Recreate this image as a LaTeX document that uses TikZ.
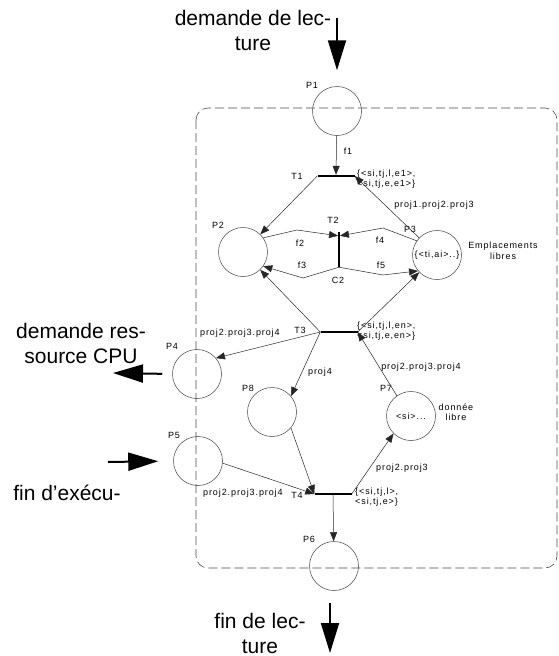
\documentclass[tikz,border=0pt]{standalone}
\usepackage{fontspec}
\setmainfont{Liberation Sans}
\newfontfamily\lblfont[LetterSpace=10]{Liberation Sans}
\usetikzlibrary{arrows.meta}

\begin{document}
\begin{tikzpicture}[x=1pt,y=-1pt,
    place/.style={circle,draw=black!75,line width=0.5pt,minimum size=49pt,inner sep=0pt,font=\lblfont\fontsize{9}{10}\selectfont},
    trans/.style={fill=black,inner sep=0pt,minimum width=37pt,minimum height=2pt},
    vtrans/.style={fill=black,inner sep=0pt,minimum width=1.5pt,minimum height=35pt},
    arc/.style={-{Triangle[length=9pt,width=7pt]},black!85,line width=0.5pt},
    bigarrow/.style={-{Triangle[length=30pt,width=18pt]},line width=2pt},
    lbl/.style={font=\lblfont\fontsize{9}{10.5}\selectfont,inner sep=0pt},
    big/.style={font=\fontsize{21}{25}\selectfont,align=center,inner sep=0pt}]
    \useasboundingbox (0,0) rectangle (559,656);
    \draw[black!70,line width=0.6pt,dash pattern=on 9pt off 4pt,rounded corners=12pt] (196,108) rectangle (557,568);

    \node[place] (P1) at (337,111) {};
    \node[place] (P2) at (243,252) {};
    \node[place] (P3) at (437,255) {\{<ti,ai>..\}};
    \node[place] (P4) at (197,374) {};
    \node[place] (P5) at (198,461) {};
    \node[place] (P6) at (334,566) {};
    \node[place] (P7) at (411,416) {<si>...};
    \node[place] (P8) at (272,412) {};
    \node[trans] (T1) at (336,176) {};
    \node[vtrans] (T2) at (339,249.5) {};
    \node[trans] (T3) at (339,332) {};
    \node[trans] (T4) at (333,494) {};

    \node[lbl] (lP1) at (312,85) {P1};
    \node[lbl] (lP2) at (218,225) {P2};
    \node[lbl] (lP3) at (410,229) {P3};
    \node[lbl] (lP4) at (172,346) {P4};
    \node[lbl] (lP5) at (174,435) {P5};
    \node[lbl] (lP6) at (309,539) {P6};
    \node[lbl] (lP7) at (386,388) {P7};
    \node[lbl] (lP8) at (248,388) {P8};
    \node[lbl] (lT1) at (297,176) {T1};
    \node[lbl] (lT2) at (333,220) {T2};
    \node[lbl] (lC2) at (338,280) {C2};
    \node[lbl] (lT3) at (300,330) {T3};
    \node[lbl] (lT4) at (297,495) {T4};

    \node[lbl] (f1) at (348,151) {f1};
    \node[lbl] (f2) at (300,243) {f2};
    \node[lbl] (f3) at (302,265) {f3};
    \node[lbl] (f4) at (380,240) {f4};
    \node[lbl] (f5) at (381,265) {f5};
    \node[lbl] (g13) at (434,205) {proj1.proj2.proj3};
    \node[lbl,anchor=west] (g34) at (200,333) {proj2.proj3.proj4};
    \node[lbl] (g8) at (320,372) {proj4};
    \node[lbl] (g7) at (421,367) {proj2.proj3.proj4};
    \node[lbl] (g74) at (402,468) {proj2.proj3};
    \node[lbl,anchor=west] (g54) at (203,493) {proj2.proj3.proj4};

    \node[lbl,anchor=west,align=left] (tok1) at (357,179) {\{<si,tj,l,e1>,\\<si,tj,e,e1>\}};
    \node[lbl,anchor=west,align=left] (tok3) at (357,331) {\{<si,tj,l,en>,\\<si,tj,e,en>\}};
    \node[lbl,anchor=west,align=left] (tok4) at (355,497) {\{<si,tj,l>,\\<si,tj,e>\}};
    \node[lbl,align=center] (empl) at (503,251) {Emplacements\\libres};
    \node[lbl,align=center] (donn) at (456,412) {donnée\\libre};

    \node[big] (tIn) at (253,30) {demande de lec-\\ture};
    \node[big] (tOut4) at (81,343) {demande res-\\source CPU};
    \node[big] (tIn5) at (67,493) {fin d’exécu-};
    \node[big] (tOut6) at (260,633) {fin de lec-\\ture};

    \coordinate (in1) at (337,18);
    \coordinate (out4) at (113,373);
    \coordinate (in5) at (108,462);
    \coordinate (out6) at (330,653);
    \draw[bigarrow,shorten >=16pt] (in1) -- (P1.north);
    \draw[bigarrow,shorten <=10pt] (P4.west) -- (out4);
    \draw[bigarrow,shorten >=15pt] (in5) -- (P5.west);
    \draw[bigarrow,shorten <=12pt] (P6.south -| out6) -- (out6);

    \draw[arc] (P1) -- (T1);
    \draw[arc] (T1.west) -- (P2);
    \draw[arc] (P3) -- (T1.east);
    \draw[arc] (P2.35) -- (297,230) -- ([yshift=-4pt]T2.north west);
    \draw[arc] (P3.145) -- (383,228) -- ([yshift=-4pt]T2.north east);
    \draw[arc] (T2.south) -- (303,278) -- (P2.-35);
    \draw[arc] (T2.south) -- (383,275) -- (P3.-140);
    \draw[arc] (T3.west) -- (P2);
    \draw[arc] (T3.east) -- (P3);
    \draw[arc] (T3.west) -- (P4.40);
    \draw[arc] (T3.west) -- (P8.40);
    \draw[arc] (P7.125) -- (T3.east);
    \draw[arc] (P8.-40) -- (T4.west);
    \draw[arc] (P5.-5) -- (T4.west);
    \draw[arc] (T4.east) -- (P7.-135);
    \draw[arc] (T4) -- (P6);
\end{tikzpicture}
\end{document}
